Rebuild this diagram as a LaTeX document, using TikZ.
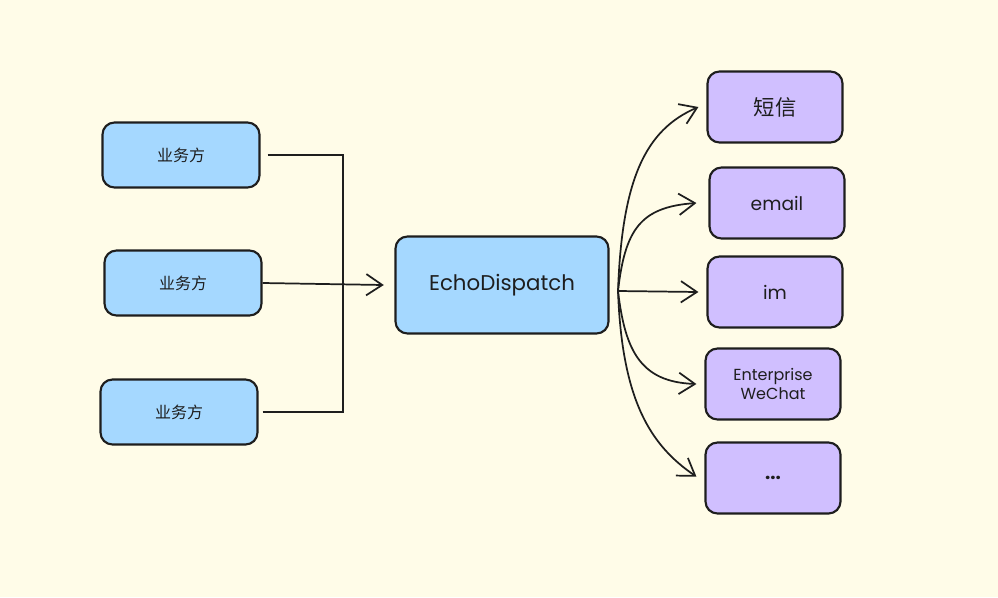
\documentclass[tikz,border=0pt]{standalone}
\usepackage{fontspec}
\setmainfont{Poppins}
\newfontfamily\cjk{Noto Sans CJK SC}
\usetikzlibrary{arrows.meta}
\definecolor{paper}{HTML}{FFFCE8}
\definecolor{skyfill}{HTML}{A5D8FF}
\definecolor{lilacfill}{HTML}{D0BFFF}
\definecolor{ink}{HTML}{1E1E1E}

\begin{document}
\begin{tikzpicture}[x=0.75pt,y=-0.75pt,
		box/.style={draw=ink,line width=1.6pt,rounded corners=9pt,inner sep=0pt,align=center,text=ink},
		caller/.style={box,fill=skyfill,minimum width=117.75pt,minimum height=48.75pt,font=\cjk\fontsize{12}{14}\selectfont},
		hub/.style={box,fill=skyfill,minimum width=159.75pt,minimum height=72.75pt,font=\fontsize{16}{19}\selectfont},
		channel/.style={box,fill=lilacfill,minimum width=101.25pt,minimum height=53.25pt,font=\fontsize{14}{16}\selectfont},
		link/.style={draw=ink,line width=1.3pt},
		tip/.style={link,-{Straight Barb[length=12pt,width=16pt,line width=1.3pt]}}]
				\fill[paper] (0, 0) rectangle (998, 597);
				
				\node[caller] (callerA) at (181, 155) {业务方};
				\node[caller] (callerB) at (183, 283) {业务方};
				\node[caller] (callerC) at (179, 412) {业务方};
				
				\node[hub] (echo) at (502, 285) {EchoDispatch};
				
				\node[channel, font=\cjk\fontsize{16}{18}\selectfont] (sms) at (775, 107) {短信};
				\node[channel] (email) at (777, 203) {email};
				\node[channel] (im) at (775, 292) {im};
				\node[channel, font=\fontsize{12}{14}\selectfont] (wechat) at (773, 384) {Enterprise\\WeChat};
				\node[channel, font=\bfseries\fontsize{14}{16}\selectfont] (more) at (773, 478) {...};
				
				\coordinate (merge) at (343, 283);
				\coordinate (fan) at (618, 291);
				
				\draw[link] ([xshift=5.25pt]callerA.east) -| (merge);
				\draw[link] ([xshift=3pt]callerC.east) -| (merge);
				\draw[tip] (callerB.east) -- ([xshift=-8pt]echo.west);
				
				\draw[tip] (fan) .. controls (622, 180) and (645, 130) .. ([xshift=-6pt]sms.west);
				\draw[tip] (fan) .. controls (625, 230) and (640, 207) .. ([xshift=-9pt]email.west);
				\draw[tip] (fan) -- ([xshift=-6pt]im.west);
				\draw[tip] (fan) .. controls (625, 350) and (640, 382) .. ([xshift=-6pt]wechat.west);
				\draw[tip] (fan) .. controls (622, 400) and (650, 445) .. ([xshift=-6pt,yshift=1pt]more.west);
			\end{tikzpicture}
\end{document}
